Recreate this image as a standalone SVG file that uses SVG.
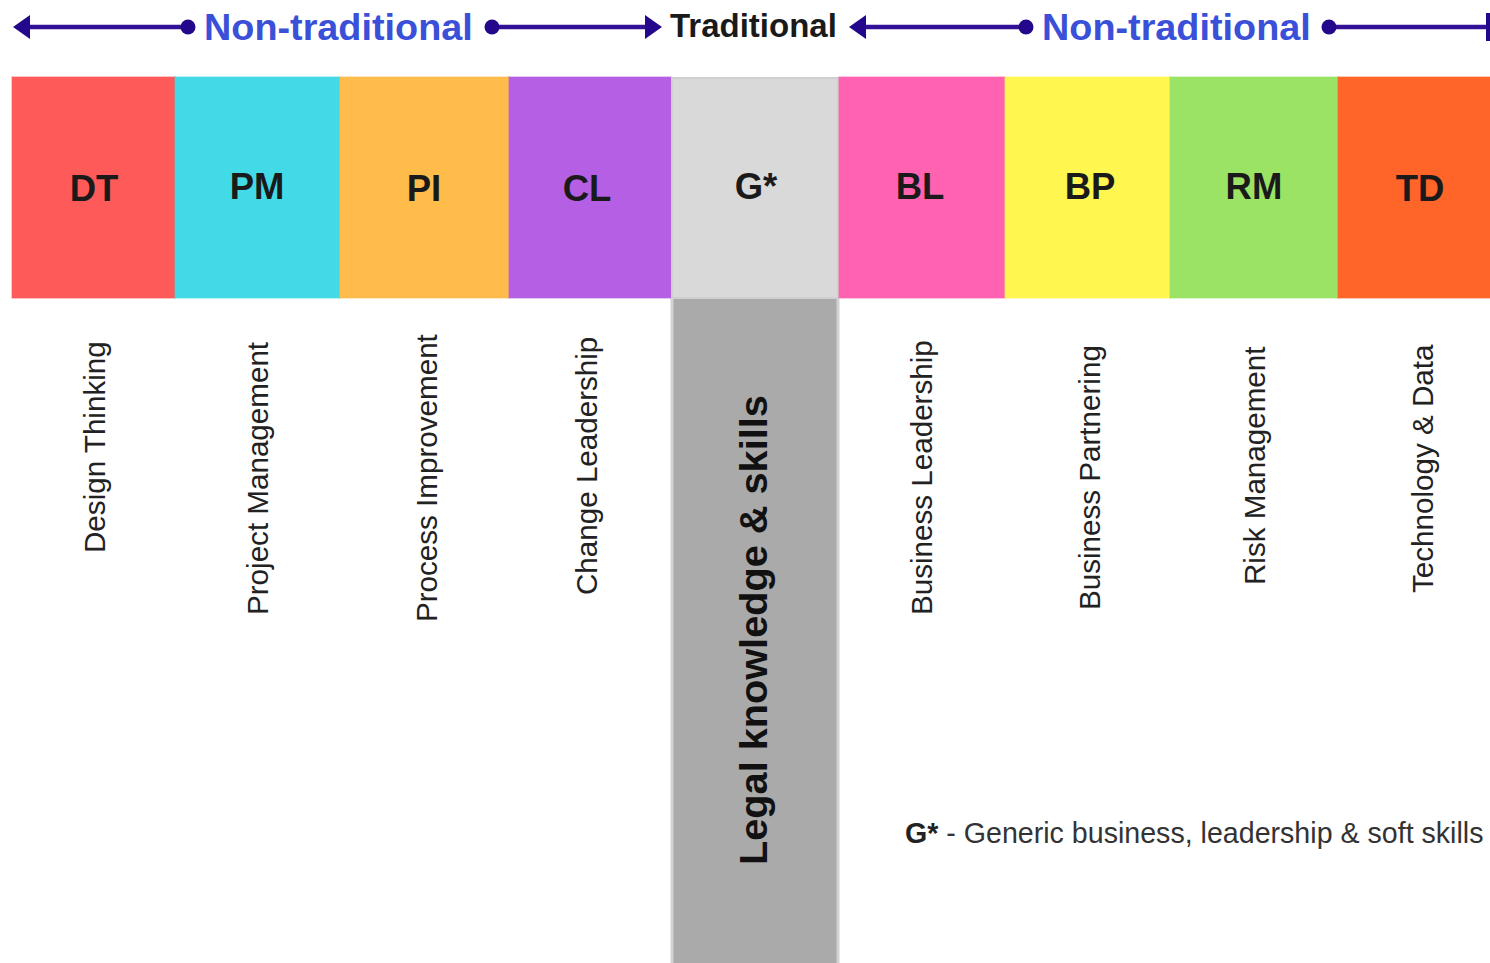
<svg xmlns="http://www.w3.org/2000/svg" width="1490" height="963" viewBox="0 0 1490 963">
<style>
.hdr{font-family:"Liberation Sans",Arial,sans-serif;font-weight:bold;font-size:37.8px;fill:#3a50d8}
.trad{font-family:"Liberation Sans",Arial,sans-serif;font-weight:bold;font-size:33px;fill:#1a1a1a}
.abbr{font-family:"Liberation Sans",Arial,sans-serif;font-weight:bold;font-size:36.5px;fill:#1a1a1a;text-anchor:middle}
.vl{font-family:"Liberation Sans",Arial,sans-serif;font-size:29.6px;fill:#222}
.legal{font-family:"Liberation Sans",Arial,sans-serif;font-weight:bold;font-size:39.7px;fill:#111}
.note{font-family:"Liberation Sans",Arial,sans-serif;font-size:28.6px;fill:#333}
.box{stroke-width:2;stroke-opacity:0.35}
.ln{stroke:#321196;stroke-width:4.5;fill:none}
.hd{fill:#24088c}
</style>
<rect width="1490" height="963" fill="#ffffff"/>
<g id="connectors">
  <line class="ln" x1="26" y1="27" x2="188" y2="27"/>
  <polygon class="hd" points="13,27 30,15 30,39"/>
  <circle class="hd" cx="188" cy="27" r="7.5"/>
  <line class="ln" x1="492" y1="27" x2="648" y2="27"/>
  <circle class="hd" cx="492" cy="27" r="7.5"/>
  <polygon class="hd" points="662,27 645,15 645,39"/>
  <line class="ln" x1="862" y1="27" x2="1026" y2="27"/>
  <polygon class="hd" points="849,27 866,15 866,39"/>
  <circle class="hd" cx="1026" cy="27" r="7.5"/>
  <line class="ln" x1="1329" y1="27" x2="1490" y2="27"/>
  <circle class="hd" cx="1329" cy="27" r="7.5"/>
  <polygon class="hd" points="1486,13 1490,13 1490,41 1486,41"/>
</g>
<g id="header-left"><text class="hdr" x="204" y="40">Non-traditional</text></g>
<g id="header-mid"><text class="trad" x="670" y="37">Traditional</text></g>
<g id="header-right"><text class="hdr" x="1042" y="40">Non-traditional</text></g>

<g id="legal-column">
  <rect x="672" y="297" width="166" height="670" fill="#aaaaaa" stroke="#d2d2d2" stroke-width="3"/>
  <text class="legal" transform="translate(767,865) rotate(-90)">Legal knowledge &amp; skills</text>
</g>

<g id="node-DT">
  <rect class="box" x="12" y="77" width="163" height="221" fill="#ff5a5a" stroke="#ff5a5a"/>
  <text class="abbr" x="94" y="201">DT</text>
  <text class="vl" transform="translate(105,553) rotate(-90)">Design Thinking</text>
</g>
<g id="node-PM">
  <rect class="box" x="175" y="77" width="165" height="221" fill="#42dae6" stroke="#42dae6"/>
  <text class="abbr" x="257" y="199">PM</text>
  <text class="vl" transform="translate(268,615) rotate(-90)">Project Management</text>
</g>
<g id="node-PI">
  <rect class="box" x="340" y="77" width="169" height="221" fill="#ffbc4a" stroke="#ffbc4a"/>
  <text class="abbr" x="424" y="201">PI</text>
  <text class="vl" transform="translate(437,622) rotate(-90)">Process Improvement</text>
</g>
<g id="node-CL">
  <rect class="box" x="509" y="77" width="162" height="221" fill="#b560e4" stroke="#b560e4"/>
  <text class="abbr" x="587" y="201">CL</text>
  <text class="vl" transform="translate(597,595) rotate(-90)">Change Leadership</text>
</g>
<g id="node-G">
  <rect x="672" y="78" width="166" height="220" fill="#d9d9d9" stroke="#cfcfcf" stroke-width="2"/>
  <text class="abbr" x="756" y="199">G*</text>
</g>
<g id="node-BL">
  <rect class="box" x="839" y="77" width="166" height="221" fill="#ff62b0" stroke="#ff62b0"/>
  <text class="abbr" x="920" y="199">BL</text>
  <text class="vl" transform="translate(932,615) rotate(-90)">Business Leadership</text>
</g>
<g id="node-BP">
  <rect class="box" x="1005" y="77" width="165" height="221" fill="#fff650" stroke="#fff650"/>
  <text class="abbr" x="1090" y="199">BP</text>
  <text class="vl" transform="translate(1100,610) rotate(-90)">Business Partnering</text>
</g>
<g id="node-RM">
  <rect class="box" x="1170" y="77" width="168" height="221" fill="#9ae364" stroke="#9ae364"/>
  <text class="abbr" x="1254" y="199">RM</text>
  <text class="vl" transform="translate(1265,585) rotate(-90)">Risk Management</text>
</g>
<g id="node-TD">
  <rect class="box" x="1338" y="77" width="160" height="221" fill="#ff6429" stroke="#ff6429"/>
  <text class="abbr" x="1420" y="201">TD</text>
  <text class="vl" transform="translate(1433,593) rotate(-90)">Technology &amp; Data</text>
</g>

<g id="footnote">
  <text class="note" x="905" y="843"><tspan font-weight="bold" fill="#222">G*</tspan> - Generic business, leadership &amp; soft skills</text>
</g>
</svg>
